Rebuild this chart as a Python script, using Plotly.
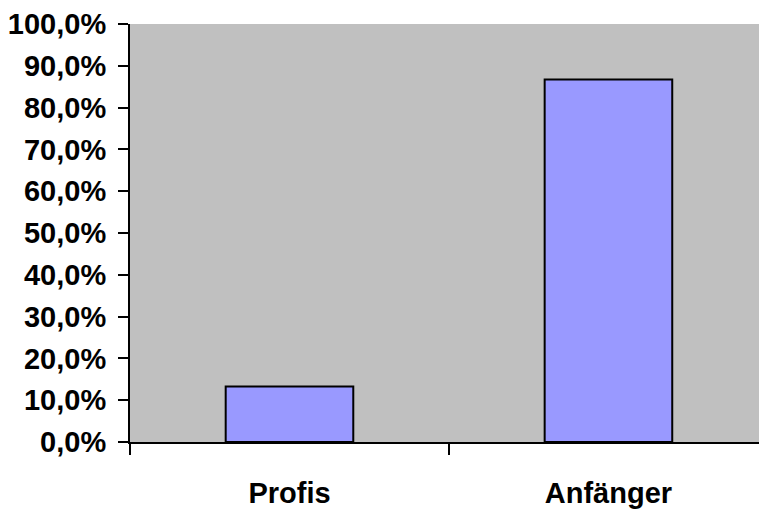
import plotly.graph_objects as go

# Share of respondents per group
categories = ["Profis", "Anfänger"]
shares = [0.133, 0.867]

fig = go.Figure(
    go.Bar(
        x=categories,
        y=shares,
        width=0.40,
        marker=dict(color="#9999FF", line=dict(color="black", width=2)),
    )
)

font_family = "Liberation Sans, Arial, sans-serif"

fig.update_layout(
    width=759,
    height=509,
    margin=dict(l=130, r=0, t=24, b=65),
    paper_bgcolor="white",
    plot_bgcolor="#C0C0C0",
    separators=", ",
    showlegend=False,
    font=dict(family=font_family, color="black"),
)

fig.update_yaxes(
    range=[0, 1],
    dtick=0.1,
    tickformat=".1%",
    showgrid=False,
    zeroline=False,
    showline=True,
    linecolor="black",
    linewidth=2,
    ticks="outside",
    ticklen=10,
    tickwidth=2,
    tickcolor="black",
    tickfont=dict(family=font_family, size=29, weight="bold", color="black"),
    ticklabelstandoff=6,
)

fig.update_xaxes(
    type="category",
    range=[-0.5, 1.472],
    tickson="boundaries",
    showgrid=False,
    showline=True,
    linecolor="black",
    linewidth=2,
    ticks="outside",
    ticklen=11,
    tickwidth=2,
    tickcolor="black",
    tickfont=dict(family=font_family, size=29, weight="bold", color="black"),
    ticklabelstandoff=24,
)

fig.write_html("out.html")
